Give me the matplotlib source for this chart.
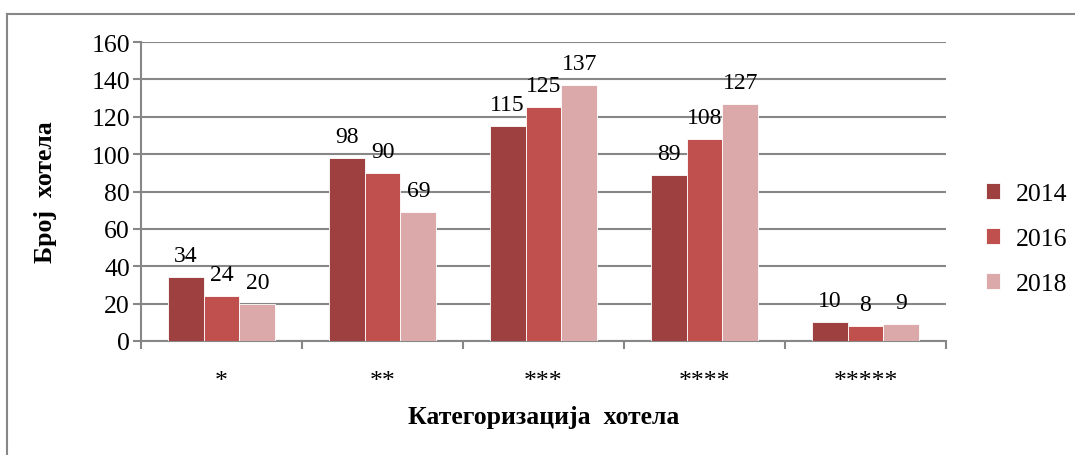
import matplotlib
matplotlib.use("Agg")
import matplotlib.pyplot as plt
import numpy as np
from matplotlib.lines import Line2D

categories = ["*", "**", "***", "****", "*****"]
years = ["2014", "2016", "2018"]
v2014 = [34, 98, 115, 89, 10]
v2016 = [24, 90, 125, 108, 8]
v2018 = [20, 69, 137, 127, 9]
yticks = [0, 20, 40, 60, 80, 100, 120, 140, 160]
colors = ["#9E4040", "#C0504D", "#DBA9A9"]

plt.rcParams['font.family'] = ['Liberation Serif', 'DejaVu Serif']
FS = 18.5
FS_LAB = 17

fig = plt.figure(figsize=(10.75, 4.56), dpi=100)
ax = fig.add_axes([141/1075, 1 - 342/456, (946-141)/1075, (342-43)/456])

x = np.arange(len(categories))
bw = 1/4.5
series = [v2014, v2016, v2018]
for i, (vals, c, yr) in enumerate(zip(series, colors, years)):
    pos = x + (i - 1) * bw
    ax.bar(pos, vals, width=bw, color=c, edgecolor="white", linewidth=0.6, label=yr, zorder=3)
    for p, v in zip(pos, vals):
        ax.annotate(str(v), (p, v), xytext=(0, 8), textcoords="offset points",
                    ha="center", va="bottom", fontsize=FS_LAB, color="black", zorder=4)

ax.set_xlim(-0.5, len(categories) - 0.5)
ax.set_ylim(0, 160)
ax.set_yticks(yticks)
ax.set_yticklabels([str(t) for t in yticks], fontsize=FS)
ax.yaxis.grid(True, color="#878787", linewidth=1.5, zorder=0)
ax.set_axisbelow(True)

ax.set_xticks(np.arange(-0.5, len(categories), 1.0))
ax.set_xticklabels([])
ax.set_xticks(x, minor=True)
ax.set_xticklabels(categories, minor=True, fontsize=FS)
ax.tick_params(axis="x", which="minor", length=0, pad=21)
ax.tick_params(axis="x", which="major", length=6, width=1.5, color="#878787", direction="out")
ax.tick_params(axis="y", length=6, width=1.5, color="#878787", pad=2)

for s in ["top", "right"]:
    ax.spines[s].set_visible(False)
for s in ["left", "bottom"]:
    ax.spines[s].set_color("#878787")
    ax.spines[s].set_linewidth(1.5)

ax.set_ylabel("Број  хотела", fontsize=FS, fontweight="bold")
ax.yaxis.set_label_coords(-84/805, 0.5)
fig.text(544/1075, 1 - 418/456, "Категоризација  хотела", ha="center", va="center",
         fontsize=FS, fontweight="bold")

leg = fig.legend(loc="center left", bbox_to_anchor=(986/1075, 1 - 240/456), frameon=False,
                 fontsize=FS, handlelength=0.55, handleheight=0.55, labelspacing=0.9,
                 handletextpad=0.6, borderpad=0, borderaxespad=0)

# outer chart border (top and left visible)
fig.add_artist(Line2D([7/1075, 1.0], [1 - 15/456, 1 - 15/456], color="#878787", linewidth=1.5,
                      transform=fig.transFigure))
fig.add_artist(Line2D([7/1075, 7/1075], [0, 1 - 15/456], color="#878787", linewidth=1.5,
                      transform=fig.transFigure))

fig.savefig("out.png", dpi=100)
